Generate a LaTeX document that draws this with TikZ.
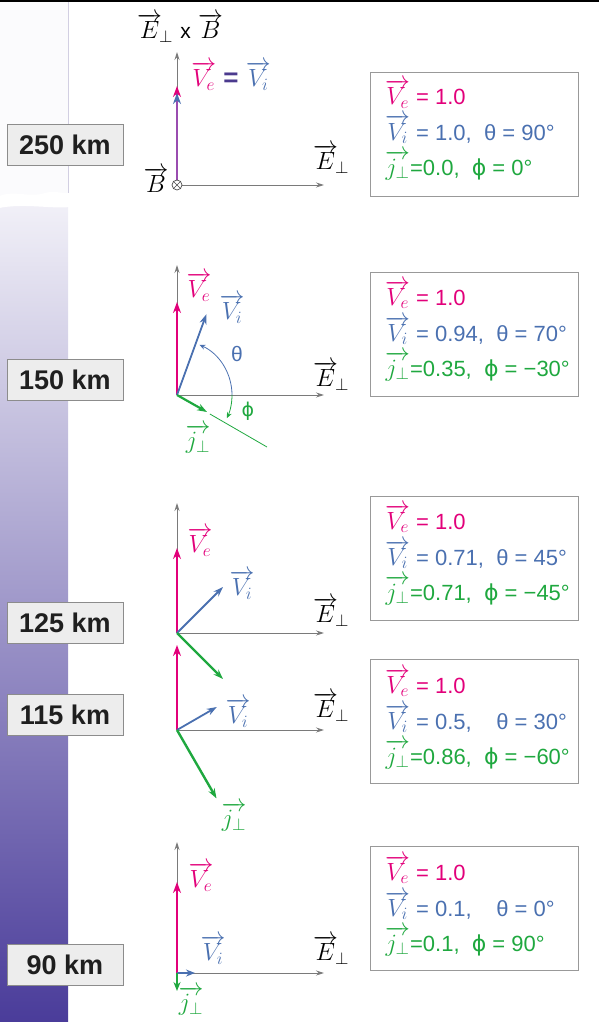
\documentclass[tikz,border=0pt]{standalone}
\usepackage{fontspec}
\setmainfont{Liberation Sans}
\newfontfamily\dv{DejaVu Sans}
\usetikzlibrary{arrows.meta}
\definecolor{mag}{HTML}{E2007A}
\definecolor{blu}{HTML}{4A70B0}
\definecolor{grn}{HTML}{1FA83F}
\definecolor{pur}{HTML}{9A4CB0}
\definecolor{axg}{HTML}{7A7A7A}
\definecolor{eqc}{HTML}{4B3A8E}
\definecolor{barTop}{HTML}{F2F1F8}
\definecolor{barMid}{HTML}{ADA5D5}
\definecolor{barBot}{HTML}{4A3C9A}
\definecolor{barLight}{HTML}{FBFBFD}
\definecolor{barLine}{HTML}{D2CFE2}
\newcommand{\vv}[1]{\overrightarrow{#1}}
\newcommand{\Eperp}{$\overrightarrow{E}_{\!\perp}$}
\newcommand{\jperp}{$\overrightarrow{j_{\perp}}$}
\newcommand{\mbig}[1]{{\fontsize{25}{28}\selectfont#1}}
\begin{document}
\begin{tikzpicture}[x=1pt,y=-1pt,
  axis/.style={draw=axg, line width=0.9pt, -{Stealth[length=8pt,width=5pt]}},
  vecm/.style={line width=2.6pt, -{Stealth[length=11pt,width=8pt]}},
  vecs/.style={line width=1.8pt, -{Stealth[length=10pt,width=7pt]}},
  alt/.style={draw=black!45, fill=black!7, line width=0.8pt, minimum width=116pt, minimum height=41pt, inner sep=0pt, font=\fontsize{27}{29}\selectfont\bfseries, text=black!88},
  info/.style={draw=black!40, line width=0.8pt, minimum width=208pt, minimum height=124pt, inner sep=0pt},
  lbl/.style={font=\fontsize{26}{30}\selectfont, inner sep=0pt},
  ln/.style={anchor=base west, font=\fontsize{22}{26}\selectfont, inner sep=0pt},
  arcl/.style={line width=0.8pt, -{Stealth[length=6pt,width=5pt]}}
]
\useasboundingbox (0,0) rectangle (599,1022);
% left altitude bar
\fill[barLight] (0,0) rectangle (68,205);
\shade[top color=barTop, middle color=barMid, bottom color=barBot] (0,200) rectangle (68,1022);
\draw[barLine, line width=0.8pt] (68,0) -- (68,200);
\fill[white] (-1,196) .. controls (15,190) and (30,198) .. (45,193) .. controls (55,190) and (62,194) .. (70,193) -- (70,207) .. controls (50,209) and (25,203) .. (-1,208) -- cycle;
\fill[black] (0,0) rectangle (599,2.5);

% altitude labels
\node[alt] (a250) at (65,145) {250 km};
\node[alt] (a150) at (65,380) {150 km};
\node[alt] (a125) at (65,623) {125 km};
\node[alt] (a115) at (65,715) {115 km};
\node[alt] (a90)  at (65,965) {90 km};

% ---------- panel 250 km ----------
\coordinate (o1) at (177,185);
\coordinate (y1) at (177,52);
\coordinate (x1) at (324,185);
\coordinate (ve1) at (177,86);
\coordinate (vi1) at (177,93);
\draw[axis] (o1) -- (y1);
\draw[axis] (o1) -- (x1);
\draw[vecm, mag] (o1) -- (ve1);
\draw[line width=2.6pt, pur, -{Stealth[length=11pt,width=8pt,color=blu]}] (o1) -- (vi1);
\node[circle, draw=black!70, fill=white, line width=0.7pt, inner sep=0pt, minimum size=10pt] (bx) at (o1) {};
\draw[black!70, line width=0.7pt] (bx.north west) -- (bx.south east) (bx.north east) -- (bx.south west);
\node[lbl] (exb) at (180,28) {\Eperp\ {\fontsize{21}{24}\selectfont x} $\vv{B}$};
\node[lbl] (vevi) at (231,76) {{\color{mag}$\vv{V_e}$} {\color{eqc}\bfseries =} {\color{blu}$\vv{V_i}$}};
\node[lbl] (blbl) at (156,180) {$\vv{B}$};
\node[lbl] (e1) at (331,159) {\Eperp};

% ---------- panel 150 km ----------
\coordinate (o2) at (177,395);
\coordinate (y2) at (177,265);
\coordinate (x2) at (324,395);
\coordinate (ve2) at (177,302);
\coordinate (vi2) at (206.4,314.2);
\coordinate (j2) at (207,412);
\coordinate (ext2a) at (209.9,414);
\coordinate (ext2b) at (267,447);
\coordinate (arc2) at (232,395);
\draw[axis] (o2) -- (y2);
\draw[axis] (o2) -- (x2);
\draw[grn, line width=0.8pt] (ext2a) -- (ext2b);
\draw[vecm, mag] (o2) -- (ve2);
\draw[vecs, blu] (o2) -- (vi2);
\draw[vecs, grn, line width=2.2pt] (o2) -- (j2);
\draw[arcl, blu] (arc2) arc[start angle=0, end angle=-66, radius=55];
\draw[arcl, grn] (arc2) arc[start angle=0, end angle=25, radius=55];
\node[lbl, mag] (ve2l) at (199,287) {$\vv{V_e}$};
\node[lbl, blu] (vi2l) at (232,309) {$\vv{V_i}$};
\node[lbl, blu, font=\fontsize{21}{24}\selectfont] (th2) at (237,354) {θ};
\node[lbl, grn, font=\dv\fontsize{19}{24}\selectfont] (ph2) at (248,411) {ϕ};
\node[lbl, grn] (j2l) at (198,439) {\jperp};
\node[lbl] (e2) at (331,376) {\Eperp};

% ---------- panel 125 km ----------
\coordinate (o3) at (177,633);
\coordinate (y3) at (177,503);
\coordinate (x3) at (324,633);
\coordinate (ve3) at (177,548);
\coordinate (vi3) at (223,587);
\coordinate (j3) at (223,679);
\draw[axis] (o3) -- (y3);
\draw[axis] (o3) -- (x3);
\draw[vecm, mag] (o3) -- (ve3);
\draw[vecs, blu] (o3) -- (vi3);
\draw[vecs, grn, line width=2.4pt] (o3) -- (j3);
\node[lbl, mag] (ve3l) at (200,542) {$\vv{V_e}$};
\node[lbl, blu] (vi3l) at (242,585) {$\vv{V_i}$};
\node[lbl] (e3) at (331,612) {\Eperp};

% ---------- panel 115 km ----------
\coordinate (o4) at (177,730);
\coordinate (x4) at (324,730);
\coordinate (ve4) at (177,645);
\coordinate (vi4) at (216.8,707);
\coordinate (j4) at (216.5,798.4);
\draw[axis] (o4) -- (x4);
\draw[vecm, mag] (o4) -- (ve4);
\draw[vecs, blu] (o4) -- (vi4);
\draw[vecs, grn, line width=2.4pt] (o4) -- (j4);
\node[lbl, blu] (vi4l) at (238,713) {$\vv{V_i}$};
\node[lbl] (e4) at (331,707) {\Eperp};
\node[lbl, grn] (j4l) at (234,817) {\jperp};

% ---------- panel 90 km ----------
\coordinate (o5) at (177,973);
\coordinate (y5) at (177,842);
\coordinate (x5) at (324,973);
\coordinate (ve5) at (177,882);
\coordinate (vi5) at (195,973);
\coordinate (j5) at (177,991);
\draw[axis] (o5) -- (y5);
\draw[axis] (o5) -- (x5);
\draw[vecm, mag] (o5) -- (ve5);
\draw[line width=1.8pt, blu, -{Stealth[length=9pt,width=7pt]}] (o5) -- (vi5);
\draw[line width=1.8pt, grn, -{Stealth[length=9pt,width=7pt]}] (o5) -- (j5);
\node[lbl, mag] (ve5l) at (201,877) {$\vv{V_e}$};
\node[lbl, blu] (vi5l) at (213,950) {$\vv{V_i}$};
\node[lbl, grn] (j5l) at (191,1001) {\jperp};
\node[lbl] (e5) at (331,950) {\Eperp};

% ---------- info boxes ----------
\node[info] (b1) at (474,134.5) {};
\node[info] (b2) at (474,334.5) {};
\node[info] (b3) at (474,558) {};
\node[info] (b4) at (474,721.5) {};
\node[info] (b5) at (474,908.5) {};

\node[ln, mag] (b1a) at (385,105) {\mbig{$\vv{V_e}$} = 1.0};
\node[ln, blu] (b1b) at (385,140) {\mbig{$\vv{V_i}$} = 1.0,\ \ θ = 90°};
\node[ln, grn] (b1c) at (385,175) {\mbig{\jperp}=0.0,\ \ {\dv ϕ} = 0°};

\node[ln, mag] (b2a) at (385,305) {\mbig{$\vv{V_e}$} = 1.0};
\node[ln, blu] (b2b) at (385,341) {\mbig{$\vv{V_i}$} = 0.94,\ \ θ = 70°};
\node[ln, grn] (b2c) at (385,376) {\mbig{\jperp}=0.35,\ \ {\dv ϕ} = −30°};

\node[ln, mag] (b3a) at (385,529) {\mbig{$\vv{V_e}$} = 1.0};
\node[ln, blu] (b3b) at (385,565) {\mbig{$\vv{V_i}$} = 0.71,\ \ θ = 45°};
\node[ln, grn] (b3c) at (385,600) {\mbig{\jperp}=0.71,\ \ {\dv ϕ} = −45°};

\node[ln, mag] (b4a) at (385,693) {\mbig{$\vv{V_e}$} = 1.0};
\node[ln, blu] (b4b) at (385,729) {\mbig{$\vv{V_i}$} = \rlap{0.5,}\phantom{0.94,}\ \ θ = 30°};
\node[ln, grn] (b4c) at (385,764) {\mbig{\jperp}=0.86,\ \ {\dv ϕ} = −60°};

\node[ln, mag] (b5a) at (385,880) {\mbig{$\vv{V_e}$} = 1.0};
\node[ln, blu] (b5b) at (385,916) {\mbig{$\vv{V_i}$} = \rlap{0.1,}\phantom{0.94,}\ \ θ = 0°};
\node[ln, grn] (b5c) at (385,951) {\mbig{\jperp}=0.1,\ \ {\dv ϕ} = 90°};
\end{tikzpicture}
\end{document}
